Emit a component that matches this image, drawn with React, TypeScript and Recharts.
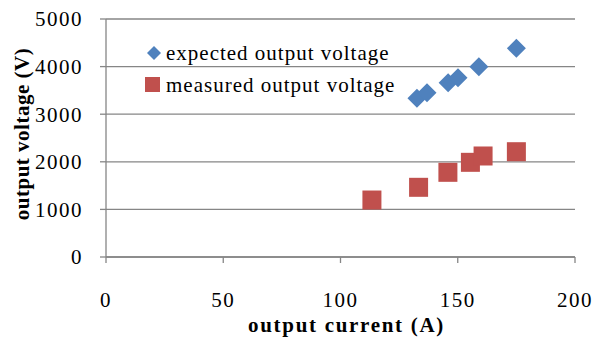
import { ScatterChart, Scatter, XAxis, YAxis, CartesianGrid, Legend, Label } from "recharts";

const expectedCurrent = [132.6, 136.9, 145.9, 150.1, 159.0, 175.0];
const expectedVoltage = [3334, 3452, 3662, 3767, 3998, 4384];
const measuredCurrent = [113.4, 133.3, 145.8, 155.4, 160.8, 175.0];
const measuredVoltage = [1197, 1464, 1779, 1989, 2122, 2212];
const xTicks = [0, 50, 100, 150, 200];
const yTicks = [0, 1000, 2000, 3000, 4000, 5000];

const expectedData = expectedCurrent.map((x, i) => ({ x, y: expectedVoltage[i] }));
const measuredData = measuredCurrent.map((x, i) => ({ x, y: measuredVoltage[i] }));

const BLUE = "#4F81BD";
const RED = "#C0504D";
const GRID = "#868686";
const FONT = "'Liberation Serif', 'Times New Roman', serif";

const Diamond = (props: any) => {
  const { cx, cy } = props;
  const r = 9.5;
  return (
    <polygon
      points={`${cx},${cy - r} ${cx + r},${cy} ${cx},${cy + r} ${cx - r},${cy}`}
      fill={BLUE}
    />
  );
};

const Square = (props: any) => {
  const { cx, cy } = props;
  const h = 9.5;
  return <rect x={cx - h} y={cy - h} width={h * 2} height={h * 2} fill={RED} />;
};

const LegendBox = (props: any) => {
  const items = props.payload || [];
  return (
    <div style={{ fontFamily: FONT, fontSize: 21, letterSpacing: 1, color: "#000" }}>
      {items.map((item: any, i: number) => (
        <div key={i} style={{ display: "flex", alignItems: "center", height: 32 }}>
          <svg width={20} height={20} style={{ marginRight: 3 }}>
            {i === 0 ? (
              <polygon points="11,3 18,10 11,17 4,10" fill={BLUE} />
            ) : (
              <rect x={2} y={2} width={15} height={15} fill={RED} />
            )}
          </svg>
          <span>{item.value}</span>
        </div>
      ))}
    </div>
  );
};

const YTitle = () => (
  <text
    x={22}
    y={134}
    transform="rotate(-90 22 134)"
    textAnchor="middle"
    dominantBaseline="central"
    fill="#000"
    fontSize={21}
    fontWeight="bold"
    fontFamily={FONT}
    letterSpacing={0.5}
  >
    output voltage (V)
  </text>
);

export default function App() {
  return (
    <div style={{ position: "absolute", left: 0, top: 0, background: "#fff" }}>
      <ScatterChart
        width={595}
        height={341}
        margin={{ top: 19, right: 20, bottom: 0, left: 0 }}
      >
        <CartesianGrid horizontal={true} vertical={false} stroke={GRID} strokeWidth={1.3} />
        <XAxis
          type="number"
          dataKey="x"
          domain={[0, 200]}
          ticks={xTicks}
          height={84}
          stroke={GRID}
          strokeWidth={1.3}
          tickSize={6}
          tickMargin={29}
          tick={{ fill: "#000", fontSize: 21, fontFamily: FONT, letterSpacing: 1.5 }}
          label={{
            value: "output current (A)",
            position: "insideBottom",
            offset: 9,
            dx: 6,
            style: { fill: "#000", fontSize: 21, fontWeight: "bold", fontFamily: FONT, letterSpacing: 1.7 },
          }}
        />
        <YAxis
          type="number"
          dataKey="y"
          domain={[0, 5000]}
          ticks={yTicks}
          width={106}
          stroke={GRID}
          strokeWidth={1.3}
          tickSize={6}
          tickMargin={17}
          tick={{ fill: "#000", fontSize: 21, fontFamily: FONT, letterSpacing: 1.5 }}
        >
          <Label content={<YTitle />} />
        </YAxis>
        <Legend
          layout="vertical"
          verticalAlign="middle"
          align="center"
          content={<LegendBox />}
          wrapperStyle={{ left: 143, top: 37, width: 320 }}
        />
        <Scatter
          name="expected output voltage"
          data={expectedData}
          shape={<Diamond />}
          isAnimationActive={false}
        />
        <Scatter
          name="measured output voltage"
          data={measuredData}
          shape={<Square />}
          isAnimationActive={false}
        />
      </ScatterChart>
    </div>
  );
}
